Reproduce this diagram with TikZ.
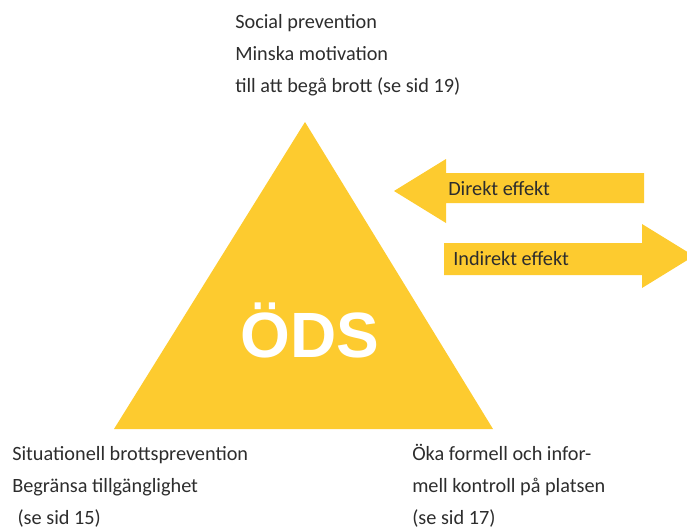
\documentclass[tikz,border=0pt]{standalone}
\usepackage{fontspec}
\setmainfont{Carlito}
\newfontfamily\odsfont{Liberation Sans}
\usetikzlibrary{positioning}
\definecolor{odsyellow}{RGB}{253,203,47}
\definecolor{odstext}{RGB}{45,45,45}
\tikzset{
  label text/.style={anchor=base west, align=left, inner sep=0pt, text=odstext,
    font=\fontsize{15.2}{24}\selectfont},
  effect text/.style={anchor=base west, inner sep=0pt, text=odstext,
    font=\fontsize{15.2}{18}\selectfont},
  yellow shape/.style={fill=odsyellow, draw=none},
}

\begin{document}
\begin{tikzpicture}[x=0.75pt,y=-0.75pt]
  \useasboundingbox (0,0) rectangle (687,529);
  \clip (0,0) rectangle (687,529);

  % triangle
  \coordinate (top) at (305,122);
  \coordinate (left) at (114,429);
  \coordinate (right) at (493,429);
  \fill [yellow shape] (top) -- (left) -- (right) -- cycle;
  \node [anchor=base, inner sep=0pt, text=white,
    font=\odsfont\bfseries\fontsize{48}{48}\selectfont] (ods) at (310,357) {ÖDS};

  % arrows
  \fill [yellow shape] (394,191) -- (446,159) -- (446,173) -- (644,173)
    -- (644,203) -- (446,203) -- (446,223) -- cycle;
  \fill [yellow shape] (694,256) -- (642,224) -- (642,243) -- (444,243)
    -- (444,275) -- (642,275) -- (642,288) -- cycle;
  \node [effect text] (direkt) at (448,195) {Direkt effekt};
  \node [effect text] (indirekt) at (453,265) {Indirekt effekt};

  % texts (base anchor sits on the last line)
  \node [label text] (social) at (235,92)
    {Social prevention\\Minska motivation\\till att begå brott (se sid 19)};
  \node [label text] (situation) at (12,524)
    {Situationell brottsprevention\\Begränsa tillgänglighet\\\hspace{4pt}(se sid 15)};
  \node [label text] (kontroll) at (412,524)
    {Öka formell och infor-\\mell kontroll på platsen\\(se sid 17)};
\end{tikzpicture}
\end{document}
